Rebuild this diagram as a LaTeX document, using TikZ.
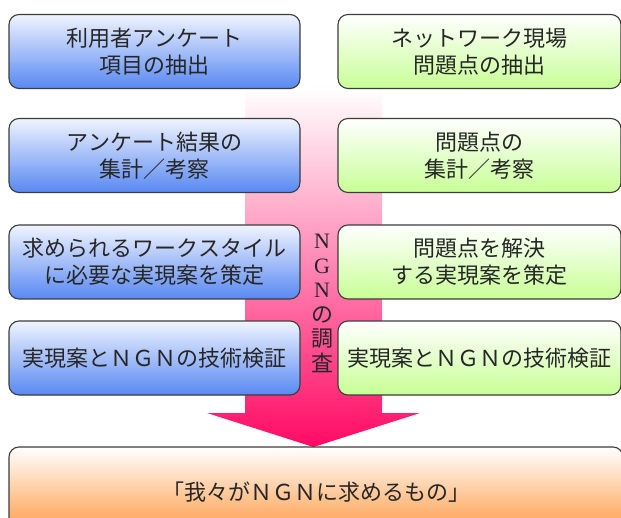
\documentclass[tikz,border=0pt]{standalone}
\usepackage{fontspec}
\newfontfamily\jp{Noto Sans CJK JP}
\newfontfamily\serifN{Liberation Serif}
\definecolor{bluebot}{RGB}{88,136,242}
\definecolor{bluetop}{RGB}{240,244,255}
\definecolor{greenbot}{RGB}{200,255,150}
\definecolor{orangebot}{RGB}{255,150,60}
\definecolor{pinkmid}{RGB}{255,165,185}
\definecolor{pinkbot}{RGB}{255,10,100}
\definecolor{edge}{RGB}{60,60,60}
\tikzset{
  box/.style={draw=edge, line width=1.1pt, rounded corners=10pt, inner sep=0pt,
    align=center, font=\jp\fontsize{22}{27}\selectfont, text=black!85},
  bluebox/.style={box, top color=bluetop, bottom color=bluebot,
    minimum width=291pt, minimum height=74pt},
  greenbox/.style={box, top color=white, bottom color=greenbot,
    minimum width=283pt, minimum height=74pt},
  vt/.style={font=\jp\fontsize{22}{24.5}\selectfont, text=black!85, inner sep=0pt,
    align=center},
}
\newcommand{\vN}[1]{{\serifN\fontsize{22}{24.5}\selectfont #1}}
\begin{document}
\begin{tikzpicture}[x=1pt,y=-1pt]
\useasboundingbox (0,0) rectangle (621,518);
\clip (0,0) rectangle (621,518);
% big arrow
\shade[top color=white, middle color=pinkmid, bottom color=pinkbot]
  (245,88) -- (382,88) -- (382,413) -- (420,413) -- (313.5,447)
  -- (207,413) -- (245,413) -- cycle;
% left column
\node[bluebox] (l1) at (154.5,51.5) {利用者アンケート\\項目の抽出};
\node[bluebox] (l2) at (154.5,155.5) {アンケート結果の\\集計／考察};
\node[bluebox] (l3) at (154.5,262) {求められるワークスタイル\\に必要な実現案を策定};
\node[bluebox] (l4) at (154.5,358) {実現案とＮＧＮの技術検証};
% right column
\node[greenbox] (r1) at (479.5,51.5) {ネットワーク現場\\問題点の抽出};
\node[greenbox] (r2) at (479.5,155.5) {問題点の\\集計／考察};
\node[greenbox] (r3) at (479.5,262) {問題点を解決\\する実現案を策定};
\node[greenbox] (r4) at (479.5,358) {実現案とＮＧＮの技術検証};
% vertical label
\node[vt, anchor=north] (vlabel) at (322,234)
  {\vN{N}\\\vN{G}\\\vN{N}\\の\\調\\査};
% result box
\node[box, top color=white, bottom color=orangebot,
  minimum width=614pt, minimum height=90pt] (res) at (316,492)
  {「我々がＮＧＮに求めるもの」};
\end{tikzpicture}
\end{document}
